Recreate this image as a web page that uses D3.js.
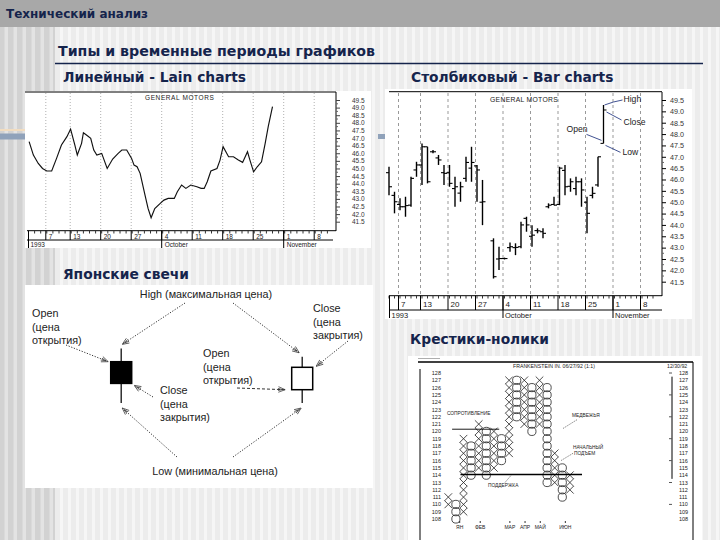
<!DOCTYPE html>
<html><head><meta charset="utf-8">
<script src="https://cdn.jsdelivr.net/npm/d3@7"></script>
<style>html,body{margin:0;padding:0;background:#eee}svg{display:block}</style>
</head><body>
<script>
// ---------------- DATA ----------------
const slideTitle = "Технический анализ";
const subTitle = "Типы и временные периоды графиков";
const panelTitles = ["Линейный - Lain charts", "Столбиковый - Bar charts", "Японские свечи", "Крестики-нолики"];
const chartName = "GENERAL MOTORS";

// trading-day index (Sep 1 1993 = 0)
const weekStartDays = [3, 7, 12, 17, 22, 27, 32, 37, 42, 47];
const weekLabels = ["7", "13", "20", "27", "4", "11", "18", "25", "1", "8"];
const monthStartDays = [0, 22, 42];
const monthLabels = ["1993", "October", "November"];
const priceTicks = [49.5, 49.0, 48.5, 48.0, 47.5, 47.0, 46.5, 46.0, 45.5, 45.0, 44.5, 44.0, 43.5, 43.0, 42.5, 42.0, 41.5];

// line chart (closing prices)
const lineDays = [0.1, 0.8, 1.6, 2.3, 3.0, 3.8, 4.6, 5.4, 6.3, 6.9, 7.6, 8.0, 8.7, 9.0, 9.5, 10.2, 10.7, 11.2, 12.0, 12.9, 13.8, 14.7, 15.3, 16.1, 16.9, 17.3, 17.8, 18.3, 19.1, 19.6, 20.1, 20.7, 21.6, 22.2, 22.9, 23.9, 24.4, 25.1, 25.8, 26.6, 27.6, 28.3, 28.8, 29.3, 29.9, 30.9, 31.4, 31.9, 32.8, 33.6, 34.4, 35.1, 35.9, 36.3, 36.9, 37.5, 38.2, 38.8, 39.3, 40.0];
const lineClose = [46.76, 45.88, 45.33, 45.0, 44.83, 44.83, 45.66, 46.54, 47.09, 47.59, 46.54, 45.88, 46.65, 47.35, 47.2, 46.98, 46.21, 45.88, 45.99, 45.0, 45.62, 45.99, 46.21, 46.21, 45.66, 45.22, 45.11, 44.68, 43.25, 42.37, 41.76, 42.37, 42.7, 42.92, 43.03, 43.03, 43.47, 43.91, 43.69, 43.91, 43.8, 43.69, 43.69, 44.13, 44.83, 45.0, 45.55, 46.43, 45.77, 45.77, 45.55, 45.4, 46.1, 45.55, 44.78, 45.11, 45.44, 46.65, 47.75, 49.06];

// bar chart (OHLC)
const barDays  = [1, 2, 3, 4, 5, 6, 7, 8, 9, 10, 11, 12, 13, 14, 15, 16, 17, 18, 20, 21, 22, 23, 24, 25, 26, 27, 28, 29, 30, 31, 32, 33, 34, 35, 36, 37, 38, 39];
const barOpen  = [46.30, 45.30, 44.90, 44.80, 44.87, 46.42, 46.64, 47.44, 47.22, 46.95, 46.30, 46.30, 45.60, 45.40, 46.05, 46.50, 46.60, 45.00, 43.30, 42.50, 42.52, 43.00, 43.00, 43.04, 44.29, 43.50, 43.75, 43.70, 44.80, 44.90, 44.90, 46.40, 45.70, 45.60, 45.90, 45.00, 45.30, 45.76];
const barHigh  = [46.56, 45.46, 45.17, 45.24, 46.12, 46.78, 47.59, 47.44, 47.30, 47.08, 46.64, 46.64, 46.12, 45.90, 47.00, 47.44, 46.64, 45.98, 43.41, 43.04, 42.56, 43.23, 43.19, 44.14, 44.36, 43.99, 43.85, 43.85, 44.95, 45.24, 46.56, 46.64, 46.05, 46.12, 46.05, 45.24, 45.68, 47.00];
const barLow   = [45.31, 44.51, 44.65, 44.36, 44.80, 46.12, 45.76, 45.83, 47.15, 46.64, 45.76, 45.68, 44.80, 45.02, 45.90, 45.90, 45.02, 43.99, 41.64, 42.01, 42.48, 42.82, 42.67, 42.97, 43.70, 43.04, 43.63, 43.41, 44.73, 44.87, 44.87, 45.31, 45.46, 45.31, 44.80, 43.63, 45.17, 45.68];
const barClose = [45.68, 45.02, 44.80, 44.85, 46.05, 46.64, 47.44, 45.90, 47.22, 46.86, 46.27, 45.83, 45.68, 45.68, 46.75, 46.75, 46.42, 45.02, 41.72, 42.52, 42.52, 43.04, 43.01, 44.00, 44.00, 43.55, 43.74, 43.63, 44.87, 44.87, 46.50, 45.68, 45.90, 45.90, 45.54, 44.51, 45.39, 47.00];
// explanatory sample bar
const sampleDay = 40, sampleOpen = 47.59, sampleHigh = 49.28, sampleLow = 47.59, sampleClose = 49.06;
const sampleLabels = ["High", "Close", "Open", "Low"];

// candlestick scheme (relative price units)
const candleNames  = ["black", "white"];
const candleOpen   = [6.9, 2.9];
const candleHigh   = [8.8, 7.6];
const candleLow    = [1.0, 1.0];
const candleClose  = [3.8, 6.1];

// point & figure
const pnfRows = [128, 127, 126, 125, 124, 123, 122, 121, 120, 119, 118, 117, 116, 115, 114, 113, 112, 111, 110, 109, 108];
const pnfType = ["X", "O", "X", "O", "X", "O", "X", "O", "X", "O", "X", "O", "X", "O", "X", "O", "X"];
const pnfLow  = [110, 108, 109, 114, 115, 114, 115, 116, 117, 122, 121, 120, 121, 113, 113, 111, 112];
const pnfHigh = [111, 110, 119, 118, 121, 120, 120, 119, 127, 127, 127, 126, 127, 126, 117, 115, 114];
const pnfMonths = ["ЯН", "ФЕВ", "МАР", "АПР", "МАЙ", "ИЮН"];
const pnfMonthCols = [1.5, 4.2, 8.1, 10.1, 12.1, 15.4];
const pnfResistance = 120.3, pnfSupport = 114.1;

// ---------------- DRAWING ----------------
const W = 720, H = 540;
const NAVY = "#15244c";
const svg = d3.select("body").append("svg").attr("width", W).attr("height", H);
const defs = svg.append("defs");

function stripe(id, base, light, w) {
  const p = defs.append("pattern").attr("id", id).attr("patternUnits", "userSpaceOnUse").attr("width", w).attr("height", 10);
  p.append("rect").attr("width", w).attr("height", 10).attr("fill", base);
  p.append("rect").attr("x", w / 2).attr("width", w / 2 - 1).attr("height", 10).attr("fill", light);
}
stripe("bgLight", "#ececec", "#f6f6f6", 8);
stripe("bgDark", "#d2d2d2", "#e3e3e3", 9);

svg.append("rect").attr("width", W).attr("height", H).attr("fill", "url(#bgLight)");
svg.append("rect").attr("x", 0).attr("y", 27).attr("width", 55).attr("height", H - 27).attr("fill", "url(#bgDark)");
svg.append("rect").attr("width", W).attr("height", 27).attr("fill", "#a8a8a8");
svg.append("text").attr("x", 6).attr("y", 18).text(slideTitle)
  .attr("font-family", "DejaVu Sans").attr("font-weight", "bold").attr("font-size", 12).attr("fill", NAVY);

svg.append("text").attr("x", 58).attr("y", 55.5).text(subTitle)
  .attr("font-family", "DejaVu Sans").attr("font-weight", "bold").attr("font-size", 14.2).attr("fill", NAVY);
svg.append("line").attr("x1", 55).attr("x2", 703).attr("y1", 63.5).attr("y2", 63.5).attr("stroke", NAVY).attr("stroke-width", 1.3);

const titlePos = [[63, 82], [411, 82], [63, 279], [410, 344]];
panelTitles.forEach((t, i) => svg.append("text").attr("x", titlePos[i][0]).attr("y", titlePos[i][1]).text(t)
  .attr("font-family", "DejaVu Sans").attr("font-weight", "bold").attr("font-size", 13.8).attr("fill", NAVY));

// decorative accents
svg.append("rect").attr("x", 0).attr("y", 133.5).attr("width", 25).attr("height", 6).attr("fill", "#90a2ba");
svg.append("rect").attr("x", 0).attr("y", 129).attr("width", 25).attr("height", 2).attr("fill", "#f1dcc0");
svg.append("rect").attr("x", 378).attr("y", 134).attr("width", 9).attr("height", 5).attr("fill", "#90a2ba");

const tiny = (sel, size) => sel.attr("font-family", "Liberation Sans, Arial").attr("font-size", size).attr("fill", "#222");

// ======== LINE CHART ========
svg.append("rect").attr("x", 25).attr("y", 91).attr("width", 346).attr("height", 157).attr("fill", "#fff");
const xL = d3.scaleLinear().domain([0, 50]).range([28.5, 28.5 + 6.1 * 50]);
const yL = d3.scaleLinear().domain([41.5, 49.5]).range([221.7, 100]);
const gL = svg.append("g");
gL.append("line").attr("x1", 25).attr("x2", 336).attr("y1", 92).attr("y2", 92).attr("stroke", "#000");
gL.selectAll(".wg").data(weekStartDays).join("line")
  .attr("x1", d => xL(d) - 1).attr("x2", d => xL(d) - 1).attr("y1", 93).attr("y2", 230)
  .attr("stroke", "#b0b0b0").attr("stroke-dasharray", "1,2");
tiny(gL.append("text").attr("x", 145).attr("y", 99.5).text(chartName).attr("letter-spacing", 0.6), 6.5);
gL.append("path").datum(d3.range(lineDays.length))
  .attr("d", d3.line().x(i => xL(lineDays[i])).y(i => yL(lineClose[i])))
  .attr("fill", "none").attr("stroke", "#111").attr("stroke-width", 1.15);
const axL = gL.append("g").attr("transform", "translate(336,0)")
  .call(d3.axisRight(yL).tickValues(priceTicks).tickSize(4).tickPadding(12).tickFormat(d3.format(".1f")));
axL.select(".domain").attr("d", "M0,92V231");
axL.selectAll("text").attr("font-family", "Liberation Sans, Arial").attr("font-size", 6.5).attr("fill", "#333");
axL.selectAll(".tick line").attr("stroke", "#444");
gL.selectAll(".mt").data(d3.range(41.75, 49.6, 0.5)).join("line")
  .attr("x1", 336).attr("x2", 338).attr("y1", d => yL(d)).attr("y2", d => yL(d)).attr("stroke", "#666");
// time axis
gL.append("line").attr("x1", 27).attr("x2", 336).attr("y1", 230.7).attr("y2", 230.7).attr("stroke", "#000");
gL.append("line").attr("x1", 27).attr("x2", 333).attr("y1", 240).attr("y2", 240).attr("stroke", "#000");
gL.selectAll(".dt").data(d3.range(0, 50)).join("line")
  .attr("x1", d => xL(d)).attr("x2", d => xL(d)).attr("y1", 230.7).attr("y2", 233.5).attr("stroke", "#333");
gL.selectAll(".wt").data(weekStartDays).join("line")
  .attr("x1", d => xL(d) - 1).attr("x2", d => xL(d) - 1).attr("y1", 230.7).attr("y2", 240).attr("stroke", "#000");
gL.selectAll(".wl").data(weekStartDays).join("text").attr("x", d => xL(d) + 2).attr("y", 238.8).text((d, i) => weekLabels[i])
  .call(s => tiny(s, 6.5));
gL.selectAll(".ms").data(monthStartDays).join("line")
  .attr("x1", d => xL(d) + (d === 0 ? 0 : -1)).attr("x2", d => xL(d) + (d === 0 ? 0 : -1)).attr("y1", 230.7).attr("y2", 248).attr("stroke", "#000");
gL.selectAll(".ml").data(monthStartDays).join("text").attr("x", d => xL(d) + 2).attr("y", 246.5).text((d, i) => monthLabels[i])
  .call(s => tiny(s, 6.5));

// ======== BAR CHART ========
svg.append("rect").attr("x", 385).attr("y", 89).attr("width", 307).attr("height", 230).attr("fill", "#fff");
const xB = d3.scaleLinear().domain([0, 50]).range([383.5, 383.5 + 5.5 * 50]);
const yB = d3.scaleLinear().domain([41.5, 49.5]).range([281.7, 100]);
const gB = svg.append("g");
gB.append("line").attr("x1", 389).attr("x2", 662).attr("y1", 91.7).attr("y2", 91.7).attr("stroke", "#000");
gB.selectAll(".wg").data(weekStartDays).join("line")
  .attr("x1", d => xB(d) - 1.5).attr("x2", d => xB(d) - 1.5).attr("y1", 93).attr("y2", 295)
  .attr("stroke", "#999").attr("stroke-dasharray", "3,3");
tiny(gB.append("text").attr("x", 490).attr("y", 102).text(chartName).attr("letter-spacing", 0.3), 6.8);
const bars = gB.selectAll(".bar").data(d3.range(barDays.length)).join("g");
bars.append("line").attr("x1", i => xB(barDays[i])).attr("x2", i => xB(barDays[i]))
  .attr("y1", i => yB(barHigh[i])).attr("y2", i => yB(barLow[i])).attr("stroke", "#000").attr("stroke-width", 1.4);
bars.append("line").attr("x1", i => xB(barDays[i]) - 3).attr("x2", i => xB(barDays[i]))
  .attr("y1", i => yB(barOpen[i])).attr("y2", i => yB(barOpen[i])).attr("stroke", "#000").attr("stroke-width", 1.1);
bars.append("line").attr("x1", i => xB(barDays[i])).attr("x2", i => xB(barDays[i]) + 3)
  .attr("y1", i => yB(barClose[i])).attr("y2", i => yB(barClose[i])).attr("stroke", "#000").attr("stroke-width", 1.1);
// sample bar
const sx = xB(sampleDay);
gB.append("line").attr("x1", sx).attr("x2", sx).attr("y1", yB(sampleHigh)).attr("y2", yB(sampleLow)).attr("stroke", "#000").attr("stroke-width", 1.3);
gB.append("line").attr("x1", sx - 3).attr("x2", sx).attr("y1", yB(sampleOpen)).attr("y2", yB(sampleOpen)).attr("stroke", "#000");
gB.append("line").attr("x1", sx).attr("x2", sx + 3).attr("y1", yB(sampleClose)).attr("y2", yB(sampleClose)).attr("stroke", "#000");
const leader = [
  [[sx + 1, yB(sampleHigh)], [sx + 10, yB(sampleHigh) - 3], [sx + 19, yB(sampleHigh) - 5]],
  [[sx + 3, yB(sampleClose) + 2], [sx + 18, yB(sampleClose) + 10]],
  [[sx - 17, yB(sampleOpen) - 9], [sx - 2, yB(sampleOpen) - 3]],
  [[sx + 2, yB(sampleLow) + 2], [sx + 17, yB(sampleLow) + 9]]
];
gB.selectAll(".ld").data(leader).join("path").attr("d", d3.line()).attr("fill", "none").attr("stroke", "#2d3f86").attr("stroke-width", 0.9);
const labPos = [[sx + 20, yB(sampleHigh) - 2.5], [sx + 20, yB(sampleClose) + 15], [sx - 37, yB(sampleOpen) - 11], [sx + 19, yB(sampleLow) + 12]];
gB.selectAll(".sl").data(sampleLabels).join("text").attr("x", (d, i) => labPos[i][0]).attr("y", (d, i) => labPos[i][1]).text(d => d)
  .call(s => tiny(s, 8.6));
const axB = gB.append("g").attr("transform", "translate(662,0)")
  .call(d3.axisRight(yB).tickValues(priceTicks).tickSize(4).tickPadding(4).tickFormat(d3.format(".1f")));
axB.select(".domain").attr("d", "M0,92V296");
axB.selectAll("text").attr("font-family", "Liberation Sans, Arial").attr("font-size", 7.2).attr("fill", "#333");
gB.selectAll(".mt").data(d3.range(41.75, 49.6, 0.5)).join("line")
  .attr("x1", 662).attr("x2", 664).attr("y1", d => yB(d)).attr("y2", d => yB(d)).attr("stroke", "#666");
gB.append("line").attr("x1", 389).attr("x2", 662).attr("y1", 295.7).attr("y2", 295.7).attr("stroke", "#000");
gB.append("line").attr("x1", 389).attr("x2", 662).attr("y1", 310).attr("y2", 310).attr("stroke", "#000");
gB.selectAll(".dt").data(d3.range(1, 50)).join("line")
  .attr("x1", d => xB(d)).attr("x2", d => xB(d)).attr("y1", 295.7).attr("y2", 298.5).attr("stroke", "#333");
gB.selectAll(".wt").data(weekStartDays).join("line")
  .attr("x1", d => xB(d) - 1.5).attr("x2", d => xB(d) - 1.5).attr("y1", 295.7).attr("y2", 310).attr("stroke", "#000");
gB.selectAll(".wl").data(weekStartDays).join("text").attr("x", d => xB(d) + 1).attr("y", 307).text((d, i) => weekLabels[i])
  .call(s => tiny(s, 8));
gB.selectAll(".ms").data(monthStartDays).join("line")
  .attr("x1", d => d === 0 ? 389.5 : xB(d) - 1.5).attr("x2", d => d === 0 ? 389.5 : xB(d) - 1.5).attr("y1", 295.7).attr("y2", 318).attr("stroke", "#000");
gB.selectAll(".ml").data(monthStartDays).join("text").attr("x", d => (d === 0 ? 389.5 : xB(d) - 1.5) + 2).attr("y", 317.5).text((d, i) => monthLabels[i])
  .call(s => tiny(s, 7.5));

// ======== CANDLES ========
svg.append("rect").attr("x", 25).attr("y", 285).attr("width", 348).attr("height", 203).attr("fill", "#fff");
const gC = svg.append("g");
const xC = d3.scalePoint().domain(candleNames).range([121.2, 302.2]);
const yC = d3.scaleLinear().domain([0, 10]).range([410, 340]);
const cIdx = d3.range(candleNames.length);
gC.selectAll(".wick").data(cIdx).join("line")
  .attr("x1", i => xC(candleNames[i])).attr("x2", i => xC(candleNames[i]))
  .attr("y1", i => yC(candleHigh[i])).attr("y2", i => yC(candleLow[i])).attr("stroke", "#111").attr("stroke-width", 1.3);
gC.selectAll(".body").data(cIdx).join("rect")
  .attr("x", i => xC(candleNames[i]) - 10.5).attr("width", 21)
  .attr("y", i => yC(Math.max(candleOpen[i], candleClose[i])))
  .attr("height", i => Math.abs(yC(candleOpen[i]) - yC(candleClose[i])))
  .attr("fill", i => candleClose[i] < candleOpen[i] ? "#000" : "#fff")
  .attr("stroke", "#000").attr("stroke-width", 1.5);
const txt = (x, y, lines, anchor) => lines.forEach((l, k) => tiny(gC.append("text").attr("x", x).attr("y", y + k * 13.5).attr("text-anchor", anchor || "start").text(l), 10.8));
txt(206, 298, ["High (максимальная цена)"], "middle");
txt(32, 317, ["Open", "(цена", "открытия)"]);
txt(313, 312, ["Close", "(цена", "закрытия)"]);
txt(203, 357, ["Open", "(цена", "открытия)"]);
txt(160, 394, ["Close", "(цена", "закрытия)"]);
txt(215, 475, ["Low (минимальная цена)"], "middle");
defs.append("marker").attr("id", "arr").attr("viewBox", "0 0 10 10").attr("refX", 9.5).attr("refY", 5)
  .attr("markerWidth", 8).attr("markerHeight", 8).attr("orient", "auto").attr("markerUnits", "userSpaceOnUse")
  .append("path").attr("d", "M1,1.5L9.5,5L1,8.5M0,3.5L6,5L0,6.5").attr("fill", "none").attr("stroke", "#333").attr("stroke-width", 0.9);
const arrows = [
  [[185, 303], [xC("black") + 1, yC(candleHigh[0]) - 4], "1.2,1.6"],
  [[233, 303], [xC("white") - 3, yC(candleHigh[1]) - 4], "1.2,1.6"],
  [[66, 345], [xC("black") - 13, yC(candleOpen[0])], "1.2,1.6"],
  [[348, 341], [xC("white") + 14, yC(candleClose[1]) - 1], "1.2,1.6"],
  [[237, 388], [xC("white") - 17, yC(candleOpen[1])], "3,2"],
  [[153, 397], [xC("black") + 13, yC(candleClose[0]) + 2], "1.2,1.6"],
  [[177, 457], [xC("black") + 1, yC(candleLow[0]) + 5], "1.2,1.6"],
  [[233, 457], [xC("white") - 1, yC(candleLow[1]) + 5], "1.2,1.6"]
];
gC.selectAll(".arr").data(arrows).join("line")
  .attr("x1", d => d[0][0]).attr("y1", d => d[0][1]).attr("x2", d => d[1][0]).attr("y2", d => d[1][1])
  .attr("stroke", "#333").attr("stroke-width", 1).attr("stroke-dasharray", d => d[2]).attr("marker-end", "url(#arr)");

// ======== POINT & FIGURE ========
svg.append("rect").attr("x", 408).attr("y", 356).attr("width", 294).attr("height", 184).attr("fill", "#fff");
const gP = svg.append("g");
const xP = d3.scaleLinear().domain([0, 16]).range([448.3, 448.3 + 16 * 7.6]);
const yP = d3.scaleLinear().domain([108, 128]).range([519, 373]);
gP.append("line").attr("x1", 418).attr("x2", 693).attr("y1", 362).attr("y2", 362).attr("stroke", "#000").attr("stroke-width", 1.4);
gP.append("line").attr("x1", 418).attr("x2", 440).attr("y1", 358.5).attr("y2", 358.5).attr("stroke", "#777").attr("stroke-width", 0.6);
gP.append("line").attr("x1", 420).attr("x2", 420).attr("y1", 369).attr("y2", 540).attr("stroke", "#000");
gP.append("line").attr("x1", 693).attr("x2", 693).attr("y1", 362).attr("y2", 540).attr("stroke", "#000");
tiny(gP.append("text").attr("x", 513).attr("y", 367.5).text("FRANKENSTEIN IN. 06/27/92 (1:1)"), 5.2);
tiny(gP.append("text").attr("x", 667).attr("y", 367.5).text("12/30/92"), 5.2);
gP.selectAll(".rl").data(pnfRows).join("text").attr("x", 441).attr("y", d => yP(d) + 2).attr("text-anchor", "end").text(d => d)
  .call(s => tiny(s, 5.5));
gP.selectAll(".rr").data(pnfRows).join("text").attr("x", 679).attr("y", d => yP(d) + 2).text(d => d)
  .call(s => tiny(s, 5.5));
gP.append("line").attr("x1", 672).attr("x2", 672).attr("y1", yP(127.5)).attr("y2", yP(113.5)).attr("stroke", "#000");
gP.selectAll(".rt").data(pnfRows.filter((d, i) => i % 3 === 0)).join("line")
  .attr("x1", 669).attr("x2", 672).attr("y1", d => yP(d)).attr("y2", d => yP(d)).attr("stroke", "#555");
// columns
const cells = [];
pnfType.forEach((t, c) => { for (let v = pnfLow[c]; v <= pnfHigh[c]; v++) cells.push({ c, v, t }); });
gP.selectAll(".o").data(cells.filter(d => d.t === "O")).join("circle")
  .attr("cx", d => xP(d.c)).attr("cy", d => yP(d.v)).attr("r", 4.1)
  .attr("fill", "none").attr("stroke", "#222").attr("stroke-width", 0.8);
gP.selectAll(".x").data(cells.filter(d => d.t === "X")).join("path")
  .attr("d", d => { const x = xP(d.c), y = yP(d.v); return `M${x - 3.8},${y - 3.8}L${x + 3.8},${y + 3.8}M${x + 3.8},${y - 3.8}L${x - 3.8},${y + 3.8}`; })
  .attr("stroke", "#222").attr("stroke-width", 0.8);
// resistance & support
gP.append("line").attr("x1", xP(0.5)).attr("x2", xP(6.7)).attr("y1", yP(pnfResistance)).attr("y2", yP(pnfResistance)).attr("stroke", "#000").attr("stroke-width", 0.9);
gP.append("line").attr("x1", xP(1.6)).attr("x2", 582).attr("y1", yP(pnfSupport)).attr("y2", yP(pnfSupport)).attr("stroke", "#000").attr("stroke-width", 1.4);
tiny(gP.append("text").attr("x", 447).attr("y", yP(122.2)).text("СОПРОТИВЛЕНИЕ"), 4.8);
tiny(gP.append("text").attr("x", 488).attr("y", yP(pnfSupport) + 13).text("ПОДДЕРЖКА"), 4.8);
gP.append("line").attr("x1", 505).attr("x2", 511).attr("y1", yP(pnfSupport) + 8).attr("y2", yP(pnfSupport) + 1).attr("stroke", "#333").attr("stroke-width", 0.6).attr("stroke-dasharray", "1.5,1");
tiny(gP.append("text").attr("x", 572).attr("y", yP(122)).text("МЕДВЕЖЬЯ"), 4.8);
gP.append("line").attr("x1", 577).attr("x2", 563).attr("y1", yP(121.6)).attr("y2", yP(120.4)).attr("stroke", "#333").attr("stroke-width", 0.6).attr("stroke-dasharray", "1.5,1");
tiny(gP.append("text").attr("x", 573).attr("y", yP(117.6)).text("НАЧАЛЬНЫЙ"), 4.8);
tiny(gP.append("text").attr("x", 574).attr("y", yP(116.8)).text("ПОДЪЕМ"), 4.8);
gP.append("line").attr("x1", 573).attr("x2", 561).attr("y1", yP(117)).attr("y2", yP(116)).attr("stroke", "#333").attr("stroke-width", 0.6).attr("stroke-dasharray", "1.5,1");
gP.selectAll(".pm").data(pnfMonths).join("text").attr("x", (d, i) => xP(pnfMonthCols[i])).attr("y", 529).attr("text-anchor", "middle").text(d => d)
  .call(s => tiny(s, 5));
gP.selectAll(".pmt").data(pnfMonthCols).join("line").attr("x1", d => xP(d)).attr("x2", d => xP(d)).attr("y1", 521).attr("y2", 523).attr("stroke", "#333");
</script>
</body></html>
